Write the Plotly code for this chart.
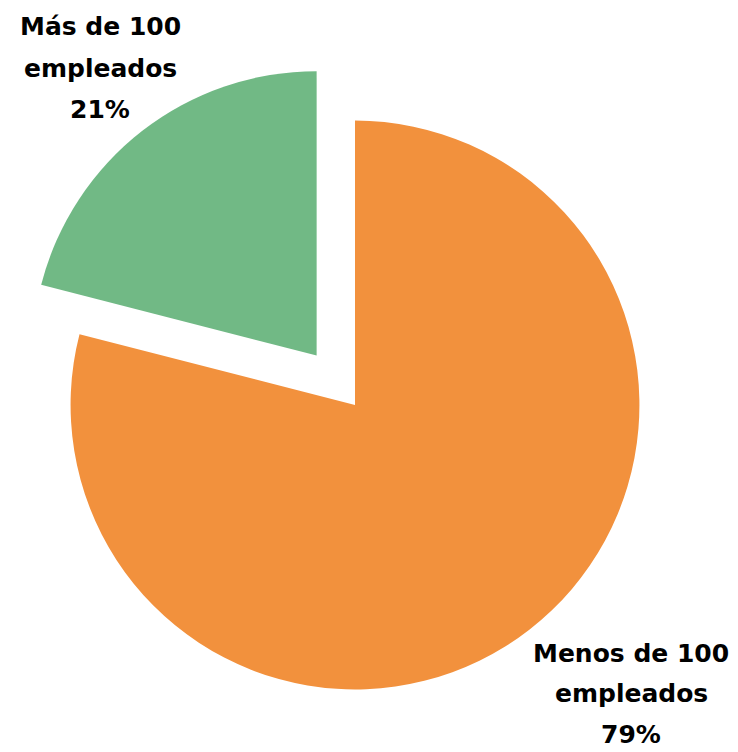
import plotly.graph_objects as go

labels = ["Menos de 100 empleados", "Más de 100 empleados"]
label_lines = [["Menos de 100", "empleados"], ["Más de 100", "empleados"]]
values = [79, 21]
colors = ["#F2913D", "#71B985"]
pulls = [0, 0.22]

W, H = 738, 752

fig = go.Figure()
fig.add_trace(go.Pie(
    labels=labels,
    values=values,
    sort=False,
    direction="clockwise",
    rotation=0,
    pull=pulls,
    marker=dict(colors=colors, line=dict(width=0)),
    textinfo="none",
    showlegend=False,
    domain=dict(x=[0, 694 / W], y=[1 - 744 / H, 1 - 50 / H]),
))

# label text blocks (one annotation per line to mimic wider line spacing)
label_centers = [(623, 645), (92, 19)]  # px: x center, y of first line middle
line_gaps = [40.5, 41.5]
total = sum(values)
annotations = []
for i, lab in enumerate(label_lines):
    pct = f"{round(values[i] / total * 100)}%"
    lines = lab + [pct]
    cx, cy0 = label_centers[i]
    for j, t in enumerate(lines):
        annotations.append(dict(
            x=cx / W, y=1 - (cy0 + j * line_gaps[i]) / H,
            xref="paper", yref="paper",
            xanchor="center", yanchor="middle",
            text="<b>" + t + "</b>", showarrow=False,
            font=dict(family="DejaVu Sans", size=25, color="#000000"),
        ))

fig.update_layout(
    width=W, height=H,
    margin=dict(l=0, r=0, t=0, b=0),
    paper_bgcolor="white",
    plot_bgcolor="white",
    annotations=annotations,
    font=dict(family="DejaVu Sans"),
)

fig.write_html("out.html")
